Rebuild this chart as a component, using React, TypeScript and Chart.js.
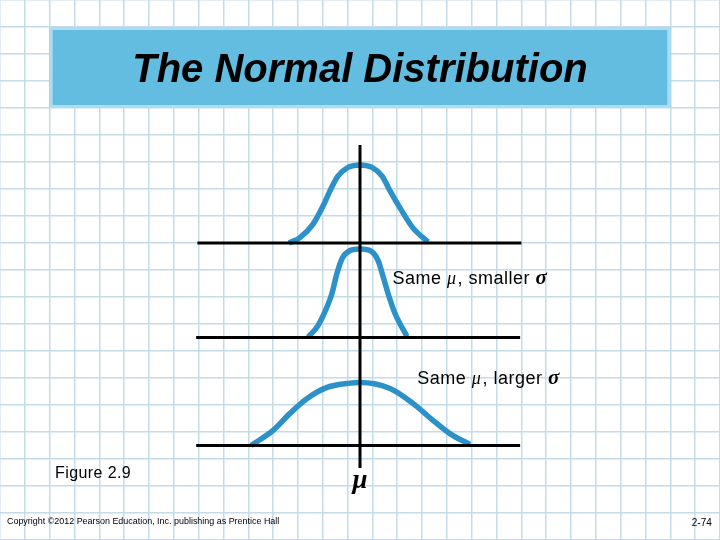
import React, { useEffect, useRef } from "react";
import { Chart, registerables } from "chart.js";

Chart.register(...registerables);

// ---- texts ----
const TITLE = "The Normal Distribution";
const LABEL_SMALLER = ["Same ", "μ", ", smaller ", "σ"];
const LABEL_LARGER = ["Same ", "μ", ", larger ", "σ"];
const FIGURE_LABEL = "Figure 2.9";
const MU_LABEL = "μ";
const COPYRIGHT = "Copyright ©2012 Pearson Education, Inc. publishing as Prentice Hall";
const PAGE_LABEL = "2-74";

// ---- axes of the three panels (x in grid columns from μ, y in grid rows from page bottom) ----
const MU = 0;
const BASE_ROWS = [11, 7.5, 3.5];
const BASE_LEFT = [-6.55, -6.6, -6.6];
const BASE_RIGHT = [6.5, 6.45, 6.45];
const MU_LINE_TOP = 14.63;
const MU_LINE_BOTTOM = 2.67;

// ---- curves: x (columns from μ), height above its baseline (rows) ----
const TOP_X = [-2.86, -2.42, -1.89, -1.49, -1.21, -0.89, -0.48, 0, 0.48, 0.89, 1.21, 1.61, 2.13, 2.74];
const TOP_H = [0, 0.2, 0.7, 1.37, 1.93, 2.48, 2.8, 2.89, 2.8, 2.48, 1.93, 1.3, 0.56, 0.04];

const MID_X = [-2.09, -1.73, -1.41, -1.13, -0.93, -0.72, -0.4, 0, 0.4, 0.72, 0.93, 1.13, 1.41, 1.89];
const MID_H = [0.02, 0.39, 0.96, 1.63, 2.37, 2.93, 3.22, 3.28, 3.22, 2.87, 2.26, 1.63, 0.89, 0.04];

const LOW_X = [-4.39, -3.5, -2.82, -2.13, -1.33, -0.4, 0, 1.21, 2.13, 2.94, 3.62, 4.43];
const LOW_H = [0, 0.56, 1.19, 1.74, 2.15, 2.31, 2.33, 2.11, 1.56, 0.93, 0.44, 0.04];

// ---- page grid ----
const GRID_COLS = 29;
const GRID_ROWS = 20;

const CURVE_COLOR = "#2b91c8";
const GRID_COLOR = "#c3dce7";

function curve(xs: number[], hs: number[], base: number) {
  return xs.map((x, i) => ({ x, y: base + hs[i] }));
}

const slidePlugin = {
  id: "slide",
  beforeDatasetsDraw(chart: any) {
    const { ctx, scales } = chart;
    const xs = scales.x;
    const ys = scales.y;
    // title box
    const x0 = xs.getPixelForValue(-12.5);
    const x1 = xs.getPixelForValue(12.5);
    const y0 = ys.getPixelForValue(19);
    const y1 = ys.getPixelForValue(16);
    ctx.save();
    ctx.fillStyle = "#63bde1";
    ctx.fillRect(x0, y0, x1 - x0, y1 - y0);
    ctx.strokeStyle = "#aedcf0";
    ctx.lineWidth = 3;
    ctx.strokeRect(x0 + 1.5, y0 + 1.5, x1 - x0 - 3, y1 - y0 - 3);
    ctx.fillStyle = "#000";
    ctx.font = "italic bold 40px 'Liberation Sans', Arial, sans-serif";
    ctx.textAlign = "center";
    ctx.textBaseline = "alphabetic";
    ctx.fillText(TITLE, xs.getPixelForValue(MU), ys.getPixelForValue(16.96));
    ctx.restore();
  },
  afterDatasetsDraw(chart: any) {
    const { ctx, scales } = chart;
    const xs = scales.x;
    const ys = scales.y;
    const sans = "'Liberation Sans', Arial, sans-serif";
    const serif = "'Liberation Serif', 'Times New Roman', serif";
    const drawRich = (parts: string[], xv: number, yv: number) => {
      let px = xs.getPixelForValue(xv);
      const py = ys.getPixelForValue(yv);
      const fonts = [
        `18px ${sans}`,
        `italic 18px ${serif}`,
        `18px ${sans}`,
        `italic bold 21px ${serif}`,
      ];
      parts.forEach((t, i) => {
        ctx.font = fonts[i];
        ctx.fillText(t, px, py);
        px += ctx.measureText(t).width + (i === 1 ? 1 : 0);
      });
    };
    ctx.save();
    ctx.fillStyle = "#000";
    ctx.textAlign = "left";
    ctx.textBaseline = "alphabetic";
    (ctx as any).letterSpacing = "0.5px";
    drawRich(LABEL_SMALLER, 1.31, 9.48);
    drawRich(LABEL_LARGER, 2.31, 5.78);

    (ctx as any).letterSpacing = "0.4px";
    ctx.font = `16px ${sans}`;
    ctx.fillText(FIGURE_LABEL, xs.getPixelForValue(-12.28), ys.getPixelForValue(2.28));

    (ctx as any).letterSpacing = "0px";
    ctx.font = `italic bold 27px ${serif}`;
    ctx.textAlign = "center";
    ctx.fillText(MU_LABEL, xs.getPixelForValue(MU), ys.getPixelForValue(1.91));

    ctx.textAlign = "left";
    ctx.font = `9.5px ${sans}`;
    const cx0 = xs.getPixelForValue(-14.22);
    const cx1 = xs.getPixelForValue(-3.25);
    ctx.fillText(COPYRIGHT, cx0, ys.getPixelForValue(0.6), cx1 - cx0);

    ctx.textAlign = "right";
    ctx.font = `10px ${sans}`;
    ctx.fillText(PAGE_LABEL, xs.getPixelForValue(14.17), ys.getPixelForValue(0.53));
    ctx.restore();
  },
};

export default function App() {
  const ref = useRef<HTMLCanvasElement | null>(null);
  useEffect(() => {
    document.body.style.margin = "0";
    if (!ref.current) return;
    const blackLine = (data: { x: number; y: number }[]) => ({
      data,
      borderColor: "#000",
      borderWidth: 3,
      pointRadius: 0,
      borderCapStyle: "butt",
      tension: 0,
      fill: false,
    });
    const blueCurve = (data: { x: number; y: number }[]) => ({
      data,
      borderColor: CURVE_COLOR,
      borderWidth: 5.5,
      pointRadius: 0,
      borderCapStyle: "butt",
      borderJoinStyle: "round",
      cubicInterpolationMode: "monotone",
      fill: false,
    });
    const datasets: any[] = [
      ...BASE_ROWS.map((r, i) =>
        blackLine([
          { x: BASE_LEFT[i], y: r },
          { x: BASE_RIGHT[i], y: r },
        ])
      ),
      blackLine([
        { x: MU, y: MU_LINE_TOP },
        { x: MU, y: MU_LINE_BOTTOM },
      ]),
      blueCurve(curve(TOP_X, TOP_H, BASE_ROWS[0])),
      blueCurve(curve(MID_X, MID_H, BASE_ROWS[1])),
      blueCurve(curve(LOW_X, LOW_H, BASE_ROWS[2])),
    ];
    const chart = new Chart(ref.current, {
      type: "line",
      data: { datasets },
      options: {
        animation: false,
        responsive: false,
        maintainAspectRatio: false,
        layout: { padding: 0 },
        plugins: { legend: { display: false }, tooltip: { enabled: false } },
        scales: {
          x: {
            type: "linear",
            min: -GRID_COLS / 2,
            max: GRID_COLS / 2,
            afterBuildTicks: (axis: any) => {
              axis.ticks = Array.from({ length: GRID_COLS + 1 }, (_, k) => ({ value: -GRID_COLS / 2 + k }));
            },
            ticks: { display: false },
            grid: { color: GRID_COLOR, lineWidth: 1.5, drawTicks: false },
            border: { display: false },
          },
          y: {
            type: "linear",
            min: 0,
            max: GRID_ROWS,
            ticks: { display: false, stepSize: 1 },
            grid: { color: GRID_COLOR, lineWidth: 1.5, drawTicks: false },
            border: { display: false },
          },
        },
      },
      plugins: [slidePlugin as any],
    } as any);
    return () => chart.destroy();
  }, []);
  return (
    <canvas ref={ref} width={720} height={540} style={{ display: "block", width: 720, height: 540 }} />
  );
}
